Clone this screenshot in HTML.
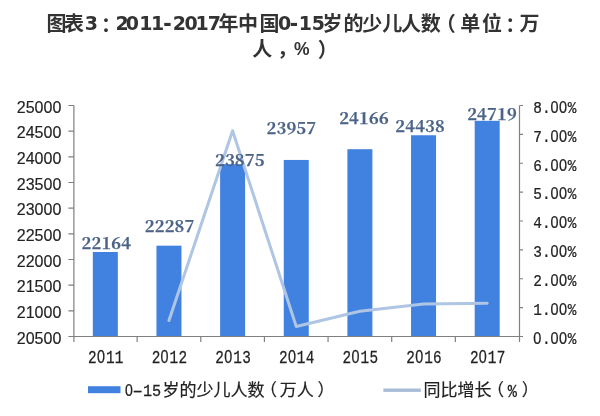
<!DOCTYPE html>
<html><head><meta charset="utf-8"><style>
html,body{margin:0;padding:0;background:#fff;}
body{width:600px;height:416px;position:relative;overflow:hidden;}
.tt{font-family:"Liberation Sans","Noto Sans CJK TC",sans-serif;font-weight:bold;font-size:20px;fill:#333;}
.hy{font-size:25px;}
.dg{font-family:"DejaVu Sans",sans-serif;font-size:19px;}
.pc{font-size:17.5px;}
svg{position:absolute;left:0;top:0;}
.la{font-family:"Liberation Sans",sans-serif;font-size:16px;fill:#222;stroke:#222;stroke-width:0.15px;text-anchor:end;}
.ra{font-family:"Liberation Mono",monospace;font-size:17px;fill:#222;stroke:#222;stroke-width:0.25px;}
.xa{font-family:"Liberation Mono",monospace;font-size:17.5px;fill:#222;stroke:#222;stroke-width:0.25px;}
.z{font-family:"Liberation Sans",sans-serif;}
.dl{font-family:"Noto Serif CJK SC","Liberation Serif",serif;font-weight:bold;font-size:16.6px;fill:#4b6388;stroke:#4b6388;stroke-width:0.25px;letter-spacing:0.15px;}
.lgl{font-family:"Liberation Mono",monospace;font-size:16px;fill:#222;stroke:#222;stroke-width:0.25px;}
.lgc{font-family:"Noto Sans CJK SC",sans-serif;font-size:17px;fill:#222;stroke:#222;stroke-width:0.2px;}
</style></head><body>
<svg width="600" height="416" viewBox="0 0 600 416">
<rect x="92.82" y="251.98" width="25" height="84.52" fill="#4181df"/>
<rect x="156.46" y="245.67" width="25" height="90.83" fill="#4181df"/>
<rect x="220.11" y="164.15" width="25" height="172.35" fill="#4181df"/>
<rect x="283.75" y="159.94" width="25" height="176.56" fill="#4181df"/>
<rect x="347.39" y="149.21" width="25" height="187.29" fill="#4181df"/>
<rect x="411.04" y="135.25" width="25" height="201.25" fill="#4181df"/>
<rect x="474.68" y="120.82" width="25" height="215.68" fill="#4181df"/>
<path d="M168.96,320.48 L232.61,130.76 L296.25,326.58 L359.89,311.31 L423.54,304.00 L487.18,303.30" fill="none" stroke="#afc5e4" stroke-width="3" stroke-linejoin="round" stroke-linecap="round"/>
<path d="M73.9,105.5 V342.0 M68.4,336.5 H523.0 M519.5,105.5 V342.0 M68.4,105.50 H73.9 M68.4,131.17 H73.9 M68.4,156.83 H73.9 M68.4,182.50 H73.9 M68.4,208.17 H73.9 M68.4,233.83 H73.9 M68.4,259.50 H73.9 M68.4,285.17 H73.9 M68.4,310.83 H73.9 M68.4,336.50 H73.9 M519.5,105.50 H523.0 M519.5,134.38 H523.0 M519.5,163.25 H523.0 M519.5,192.12 H523.0 M519.5,221.00 H523.0 M519.5,249.88 H523.0 M519.5,278.75 H523.0 M519.5,307.62 H523.0 M519.5,336.50 H523.0 M137.14,336.5 V342.0 M200.79,336.5 V342.0 M264.43,336.5 V342.0 M328.07,336.5 V342.0 M391.71,336.5 V342.0 M455.36,336.5 V342.0" stroke="#808080" stroke-width="1.2" fill="none"/>
<text x="61.3" y="112.70" class="la">25000</text>
<text x="61.3" y="138.37" class="la">24500</text>
<text x="61.3" y="164.03" class="la">24000</text>
<text x="61.3" y="189.70" class="la">23500</text>
<text x="61.3" y="215.37" class="la">23000</text>
<text x="61.3" y="241.03" class="la">22500</text>
<text x="61.3" y="266.70" class="la">22000</text>
<text x="61.3" y="292.37" class="la">21500</text>
<text x="61.3" y="318.03" class="la">21000</text>
<text x="61.3" y="343.70" class="la">20500</text>
<text transform="translate(533.30,112.80) scale(0.85,1)" x="0.00 10.12 20.24 30.35 40.47" y="0" class="ra">8.<tspan class="z">0</tspan><tspan class="z">0</tspan>%</text>
<text transform="translate(533.30,141.68) scale(0.85,1)" x="0.00 10.12 20.24 30.35 40.47" y="0" class="ra">7.<tspan class="z">0</tspan><tspan class="z">0</tspan>%</text>
<text transform="translate(533.30,170.55) scale(0.85,1)" x="0.00 10.12 20.24 30.35 40.47" y="0" class="ra">6.<tspan class="z">0</tspan><tspan class="z">0</tspan>%</text>
<text transform="translate(533.30,199.43) scale(0.85,1)" x="0.00 10.12 20.24 30.35 40.47" y="0" class="ra">5.<tspan class="z">0</tspan><tspan class="z">0</tspan>%</text>
<text transform="translate(533.30,228.30) scale(0.85,1)" x="0.00 10.12 20.24 30.35 40.47" y="0" class="ra">4.<tspan class="z">0</tspan><tspan class="z">0</tspan>%</text>
<text transform="translate(533.30,257.18) scale(0.85,1)" x="0.00 10.12 20.24 30.35 40.47" y="0" class="ra">3.<tspan class="z">0</tspan><tspan class="z">0</tspan>%</text>
<text transform="translate(533.30,286.05) scale(0.85,1)" x="0.00 10.12 20.24 30.35 40.47" y="0" class="ra">2.<tspan class="z">0</tspan><tspan class="z">0</tspan>%</text>
<text transform="translate(533.30,314.93) scale(0.85,1)" x="0.00 10.12 20.24 30.35 40.47" y="0" class="ra">1.<tspan class="z">0</tspan><tspan class="z">0</tspan>%</text>
<text transform="translate(533.30,343.80) scale(0.85,1)" x="0.00 10.12 20.24 30.35 40.47" y="0" class="ra"><tspan class="z">0</tspan>.<tspan class="z">0</tspan><tspan class="z">0</tspan>%</text>
<text transform="translate(88.02,362.60) scale(0.82,1)" x="0.00 10.91 21.83 32.74" y="0" class="xa">2<tspan class="z">0</tspan>11</text>
<text transform="translate(151.66,362.60) scale(0.82,1)" x="0.00 10.91 21.83 32.74" y="0" class="xa">2<tspan class="z">0</tspan>12</text>
<text transform="translate(215.31,362.60) scale(0.82,1)" x="0.00 10.91 21.83 32.74" y="0" class="xa">2<tspan class="z">0</tspan>13</text>
<text transform="translate(278.95,362.60) scale(0.82,1)" x="0.00 10.91 21.83 32.74" y="0" class="xa">2<tspan class="z">0</tspan>14</text>
<text transform="translate(342.59,362.60) scale(0.82,1)" x="0.00 10.91 21.83 32.74" y="0" class="xa">2<tspan class="z">0</tspan>15</text>
<text transform="translate(406.24,362.60) scale(0.82,1)" x="0.00 10.91 21.83 32.74" y="0" class="xa">2<tspan class="z">0</tspan>16</text>
<text transform="translate(469.88,362.60) scale(0.82,1)" x="0.00 10.91 21.83 32.74" y="0" class="xa">2<tspan class="z">0</tspan>17</text>
<text x="81.60" y="249.40" class="dl">22164</text>
<text x="144.80" y="232.00" class="dl">22287</text>
<text x="215.00" y="166.00" class="dl">23875</text>
<text x="266.60" y="133.80" class="dl">23957</text>
<text x="339.20" y="124.30" class="dl">24166</text>
<text x="395.30" y="131.60" class="dl">24438</text>
<text x="467.20" y="119.50" class="dl">24719</text>
<text class="tt" x="46.4 63.9 84.7 96.0 115.5 125.7 139.2 150.9 163.2 172.8 184.4 195.5 207.8 218.6 238.0 259.4 278.0 289.8 298.8 311.8 322.6 343.6 362.3 382.3 401.1 420.7 435.75 460.2 481.9 500.3 519.4" y="31.2 31.2 30.2 32.7 30.2 30.2 30.2 30.2 31.0 30.2 30.2 30.2 30.2 31.2 31.2 31.2 30.2 31.0 30.2 30.2 31.2 31.2 31.2 31.2 31.2 31.2 31.2 31.2 31.2 32.7 31.2">图表<tspan class="dg">3</tspan>：<tspan class="dg">2</tspan><tspan class="dg">0</tspan><tspan class="dg">1</tspan><tspan class="dg">1</tspan><tspan class="hy">-</tspan><tspan class="dg">2</tspan><tspan class="dg">0</tspan><tspan class="dg">1</tspan><tspan class="dg">7</tspan>年中国<tspan class="dg">0</tspan><tspan class="hy">-</tspan><tspan class="dg">1</tspan><tspan class="dg">5</tspan>岁的少儿人数（单位：万</text>
<text class="tt" x="252.3 272.7 294 317.7" y="55.8 62.3 55.0 56.599999999999994">人，<tspan class="pc">%</tspan>）</text>
<rect x="88" y="386.2" width="32.5" height="7" fill="#4181df"/>
<rect x="383.4" y="388.5" width="37.4" height="3.4" fill="#a9bcd6"/>
<text class="lgl" transform="translate(125.0,396.3) scale(0.88,1)" x="0"><tspan class="z">0</tspan></text>
<text class="lgl" transform="translate(129.6,396.3) scale(1.7,1)" x="0">-</text>
<text class="lgl" transform="translate(143.0,396.3) scale(0.95,1)" x="0 9.6">15</text>
<text x="162.5" y="396.3" class="lgc">岁的少儿人数</text>
<text x="260" y="396.3" class="lgc">（</text>
<text x="279.8" y="396.3" class="lgc">万人</text>
<text x="317.5" y="396.3" class="lgc">）</text>
<text x="423.5" y="396.3" class="lgc">同比增长</text>
<text x="486.9" y="396.3" class="lgc">（</text>
<text class="lgl" transform="translate(507.8,396.6) scale(0.85,1.05)" x="0" style="font-size:18px">%</text>
<text x="521.8" y="396.3" class="lgc">）</text>
</svg>
</body></html>
